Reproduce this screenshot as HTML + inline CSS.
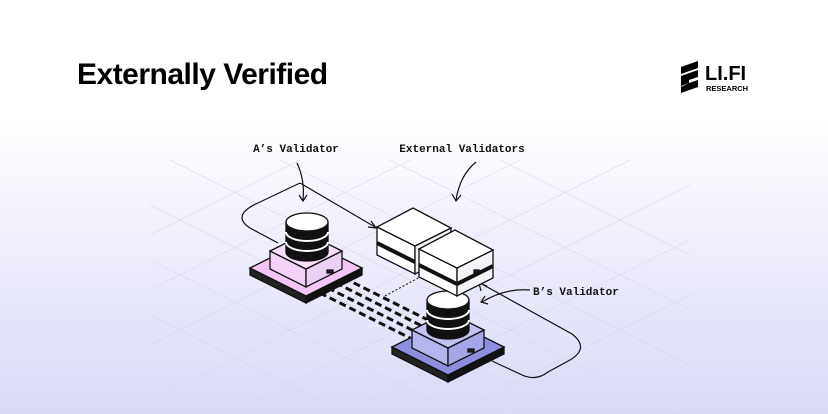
<!DOCTYPE html>
<html style="overflow:hidden"><head><style>
html,body{margin:0;width:828px;height:414px;overflow:hidden}
body{position:relative;background:linear-gradient(180deg,#fff 0%,#fff 28%,#e9e9fb 70%,#d9d9f6 100%);font-family:"Liberation Sans",sans-serif}
.t{position:absolute;left:77px;top:58px;font-size:30px;font-weight:bold;color:#000;letter-spacing:-0.5px}
.mono{font-family:"Liberation Mono",monospace;font-size:11px;font-weight:bold;fill:#111}
</style></head><body>
<div class="t">Externally Verified</div>
<svg width="828" height="414" style="position:absolute;left:0;top:0">
<defs><clipPath id="g"><rect x="150" y="160" width="540" height="254"/></clipPath></defs>
<g clip-path="url(#g)" stroke="#d2d2e4" stroke-width="0.7" opacity="0.7">
<line x1="100" y1="180" x2="700" y2="480"/><line x1="150" y1="150" x2="750" y2="450"/>
<line x1="200" y1="120" x2="800" y2="420"/><line x1="250" y1="90" x2="850" y2="390"/>
<line x1="50" y1="210" x2="650" y2="510"/><line x1="300" y1="60" x2="900" y2="360"/>
<line x1="0" y1="240" x2="600" y2="540"/>
<line x1="150" y1="400" x2="650" y2="150"/><line x1="200" y1="430" x2="700" y2="180"/>
<line x1="250" y1="460" x2="750" y2="210"/><line x1="100" y1="370" x2="600" y2="120"/>
<line x1="50" y1="340" x2="550" y2="90"/><line x1="300" y1="490" x2="800" y2="240"/>
<line x1="0" y1="310" x2="500" y2="60"/>
</g>
<!-- logo -->
<g fill="#000"><polygon points="681,67 698,61 698,68 681,74"/><polygon points="681,76 698,70 698,77 689,80 689,83 681,86"/><polygon points="689,83 698,80 698,87 681,93 681,87"/></g>
<text x="705" y="80" font-family="Liberation Sans" font-weight="bold" font-size="20">LI.FI</text>
<text x="706" y="91" font-family="Liberation Sans" font-weight="bold" font-size="7.5">RESEARCH</text>
<!-- labels -->
<text class="mono" x="296" y="152" text-anchor="middle">A’s Validator</text>
<text class="mono" x="462" y="152" text-anchor="middle">External Validators</text>
<text class="mono" x="533" y="295">B’s Validator</text>
<g fill="none" stroke="#111" stroke-width="1.2">
<path d="M297,163 Q305,180 303,200"/><path d="M299,195 L303,201 L307,195"/>
<path d="M476,162 Q460,175 456,200"/><path d="M452,194 L456,201 L461,195"/>
<path d="M530,290 Q505,288 482,302"/><path d="M485,296 L481,302 L488,304"/>
<path d="M300,183 L260,202 Q230,215 250,228 L278,243"/>
<path d="M300,183 L375,227"/><path d="M368,227 L376,228 L371,221"/>
<path d="M480,283 L572,334 Q590,348 570,360 L548,372 Q535,382 520,374 L492,361"/>
<path d="M479,283 L481,291 M479,283 L487,286"/>
</g>
<g stroke="#111" stroke-width="3" stroke-dasharray="7 4" fill="none">
<line x1="318" y1="283" x2="418" y2="333"/><line x1="326" y1="278" x2="426" y2="328"/>
<line x1="334" y1="273" x2="434" y2="323"/><line x1="310" y1="288" x2="410" y2="338"/>
</g>
<line x1="385" y1="296" x2="420" y2="277" stroke="#111" stroke-dasharray="2 2"/>
<!-- platform A -->
<g stroke="#111" stroke-width="1.3">
<polygon points="250,268 306,296 306,303 250,275" fill="#222"/>
<polygon points="306,296 362,268 362,275 306,303" fill="#111"/>
<polygon points="250,268 306,240 362,268 306,296" fill="#f2c6f2"/>
<polygon points="270,251 306,269 306,287 270,269" fill="#f3d3f5"/>
<polygon points="306,269 342,251 342,269 306,287" fill="#ead0f2"/>
<polygon points="270,251 306,233 342,251 306,269" fill="#f7ddf8"/>
<rect x="327" y="270" width="6" height="3" fill="#222"/>
<path d="M286,222 v30 a21,9 0 0 0 42,0 v-30" fill="#111"/>
<path d="M286,242 a21,9 0 0 0 42,0" fill="none" stroke="#fff" stroke-width="2"/>
<path d="M286,232 a21,9 0 0 0 42,0" fill="none" stroke="#fff" stroke-width="2"/>
<ellipse cx="307" cy="222" rx="21" ry="9" fill="#fff"/>
</g>
<!-- platform B -->
<g stroke="#111" stroke-width="1.3">
<polygon points="392,347 448,375 448,382 392,354" fill="#222"/>
<polygon points="448,375 504,347 504,354 448,382" fill="#111"/>
<polygon points="392,347 448,319 504,347 448,375" fill="#8e8ee0"/>
<polygon points="412,330 448,348 448,366 412,348" fill="#b4b4ee"/>
<polygon points="448,348 484,330 484,348 448,366" fill="#a5a5e8"/>
<polygon points="412,330 448,312 484,330 448,348" fill="#c3c3f3"/>
<rect x="468" y="349" width="6" height="3" fill="#222"/>
<path d="M427,300 v30 a21,9 0 0 0 42,0 v-30" fill="#111"/>
<path d="M427,320 a21,9 0 0 0 42,0" fill="none" stroke="#fff" stroke-width="2"/>
<path d="M427,310 a21,9 0 0 0 42,0" fill="none" stroke="#fff" stroke-width="2"/>
<ellipse cx="448" cy="300" rx="21" ry="9" fill="#fff"/>
</g>
<!-- external validators -->
<g stroke="#111" stroke-width="1.3">
<polygon points="377,227 415,246 415,274 377,255" fill="#fff"/>
<polygon points="415,246 451,228 451,256 415,274" fill="#f4f4f8"/>
<polygon points="377,227 413,208 451,228 415,246" fill="#fff"/>
<line x1="377" y1="243" x2="415" y2="262" stroke-width="4"/>
<polygon points="419,249 457,268 457,296 419,277" fill="#fff"/>
<polygon points="457,268 493,250 493,278 457,296" fill="#f4f4f8"/>
<polygon points="419,249 455,230 493,250 457,268" fill="#fff"/>
<line x1="419" y1="265" x2="457" y2="284" stroke-width="4"/>
<line x1="457" y1="284" x2="493" y2="266" stroke-width="4"/>
<rect x="474" y="270" width="5" height="3" fill="#222"/>
</g>
</svg>
</body></html>
